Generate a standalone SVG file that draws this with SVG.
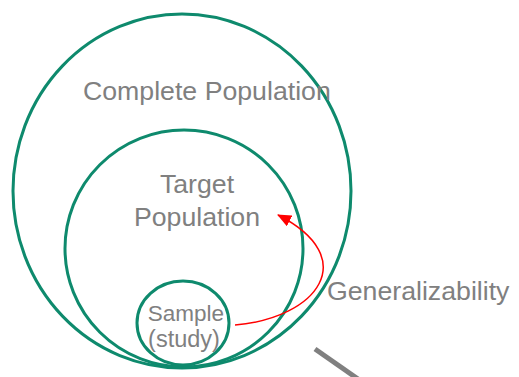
<svg xmlns="http://www.w3.org/2000/svg" width="519" height="377" viewBox="0 0 519 377">
<style>
.c{fill:none;stroke:#0e8a6d;stroke-width:3}
.t{font-family:"Liberation Sans",Arial,sans-serif;fill:#808080}
</style>
<defs>
<marker id="ah" markerWidth="14" markerHeight="12" refX="13" refY="6" orient="auto" markerUnits="userSpaceOnUse" viewBox="0 0 14 12">
<path d="M0,0 L14,6 L0,12 Z" fill="#ff0000"/>
</marker>
</defs>
<rect width="519" height="377" fill="#ffffff"/>
<g id="complete">
<ellipse class="c" cx="182" cy="191" rx="169" ry="177"/>
<text class="t" x="83" y="100" font-size="26.7">Complete Population</text>
</g>
<g id="target">
<ellipse class="c" cx="184" cy="248.5" rx="119" ry="118.5"/>
<text class="t" x="197" y="193" font-size="26.7" text-anchor="middle">Target</text>
<text class="t" x="197" y="226" font-size="26.7" text-anchor="middle">Population</text>
</g>
<g id="sample">
<ellipse class="c" cx="183" cy="323" rx="46" ry="42"/>
<text class="t" x="186" y="321" font-size="22.5" text-anchor="middle">Sample</text>
<text class="t" x="184" y="347" font-size="23.5" text-anchor="middle">(study)</text>
</g>
<g id="connectors">
<path d="M235,325 C318,318 362,258 278,215" fill="none" stroke="#ff0000" stroke-width="1.5" marker-end="url(#ah)"/>
<line x1="315" y1="349" x2="358" y2="379" stroke="#808080" stroke-width="5"/>
</g>
<g id="generalizability">
<text class="t" x="327" y="300" font-size="26.7">Generalizability</text>
</g>
</svg>
